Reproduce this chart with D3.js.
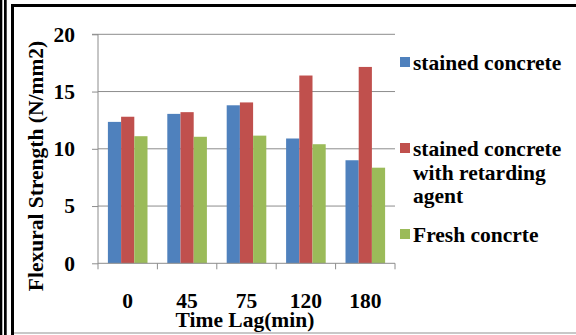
<!DOCTYPE html>
<html>
<head>
<meta charset="utf-8">
<script src="https://cdn.jsdelivr.net/npm/d3@7"></script>
<style>
  html, body { margin: 0; padding: 0; background: #fff; }
  svg { display: block; }
</style>
</head>
<body>
<svg id="chart" width="576" height="335"></svg>
<script>
// Flexural strength by time lag for three concrete mixes
const categories = ["0", "45", "75", "120", "180"];
const seriesNames = ["stained concrete", "stained concrete with retarding agent", "Fresh concrte"];
const stained = [12.35, 13.05, 13.8, 10.9, 9.0];
const stainedRetarding = [12.8, 13.2, 14.05, 16.4, 17.15];
const fresh = [11.1, 11.05, 11.15, 10.4, 8.35];
const yTicks = [0, 5, 10, 15, 20];
const legendLines = [["stained concrete"], ["stained concrete", "with retarding", "agent"], ["Fresh concrte"]];
const colors = ["#4F81BD", "#C0504D", "#9BBB59"];

const seriesValues = [stained, stainedRetarding, fresh];
const svg = d3.select("#chart");
const FONT = "'Liberation Serif', 'Times New Roman', serif";
const styleText = sel => sel.style("font-family", FONT).style("font-weight", "bold")
  .style("font-size", "21.5px").style("fill", "#000");

// frame around the figure
const frame = svg.append("g");
frame.append("rect").attr("x", 0).attr("y", 0).attr("width", 2.3).attr("height", 335).attr("fill", "#000");
frame.append("rect").attr("x", 4).attr("y", 0).attr("width", 2.7).attr("height", 335).attr("fill", "#000");
frame.append("rect").attr("x", 11).attr("y", 4).attr("width", 3).attr("height", 331).attr("fill", "#000");
frame.append("rect").attr("x", 11).attr("y", 4).attr("width", 565).attr("height", 3).attr("fill", "#000");
frame.append("rect").attr("x", 14).attr("y", 332).attr("width", 562).attr("height", 2).attr("fill", "#c8c8c8");

const plot = { left: 98, right: 395, top: 34.3, bottom: 263.3 };

const x = d3.scaleBand().domain(categories).range([plot.left, plot.right]).paddingInner(0).paddingOuter(0);
const groupW = x.bandwidth() * 3 / 4.5;
const xs = d3.scaleBand().domain(d3.range(3)).range([(x.bandwidth() - groupW) / 2, (x.bandwidth() + groupW) / 2]);
const y = d3.scaleLinear().domain([0, 20]).range([plot.bottom, plot.top]);

// gridlines
svg.append("g").selectAll("line").data(yTicks.filter(d => d > 0)).join("line")
  .attr("x1", plot.left).attr("x2", plot.right)
  .attr("y1", d => y(d)).attr("y2", d => y(d))
  .attr("stroke", "#8c8c8c").attr("stroke-width", 1);

// bars
const groups = svg.append("g").selectAll("g").data(categories).join("g")
  .attr("transform", d => `translate(${x(d)},0)`);
groups.selectAll("rect").data((c, i) => seriesValues.map((s, k) => ({ k, v: s[i] }))).join("rect")
  .attr("x", d => xs(d.k))
  .attr("width", xs.bandwidth())
  .attr("y", d => y(d.v))
  .attr("height", d => y(0) - y(d.v))
  .attr("fill", d => colors[d.k]);

// y axis
const yAxis = svg.append("g").attr("transform", `translate(${plot.left},0)`)
  .call(d3.axisLeft(y).tickValues(yTicks).tickSize(6).tickPadding(17).tickFormat(d3.format("d")));
yAxis.select(".domain").attr("stroke", "#8c8c8c").attr("d", `M-6,${plot.top}H0V${plot.bottom}`);
yAxis.selectAll(".tick line").attr("stroke", "#8c8c8c");
yAxis.selectAll(".tick text").call(styleText);

// x axis
const xAxis = svg.append("g").attr("transform", `translate(0,${plot.bottom})`)
  .call(d3.axisBottom(x).tickSize(0).tickPadding(29));
xAxis.select(".domain").attr("stroke", "#8c8c8c").attr("d", `M${plot.left},0H${plot.right}`);
xAxis.selectAll(".tick text").call(styleText);
xAxis.selectAll(".sep").data(d3.range(categories.length + 1)).join("line")
  .attr("x1", i => plot.left + i * x.step()).attr("x2", i => plot.left + i * x.step())
  .attr("y1", 0).attr("y2", 6).attr("stroke", "#8c8c8c");

// axis titles
svg.append("text").attr("x", 245).attr("y", 327).attr("text-anchor", "middle")
  .call(styleText).text("Time Lag(min)");
svg.append("text").attr("transform", "translate(43,166) rotate(-90)").attr("text-anchor", "middle")
  .call(styleText).text("Flexural Strength (N/mm2)");

// legend
const legendY = [57, 143, 229];
const legend = svg.append("g");
legendLines.forEach((lines, i) => {
  legend.append("rect").attr("x", 400).attr("y", legendY[i]).attr("width", 10).attr("height", 10).attr("fill", colors[i]);
  const t = legend.append("text").attr("x", 413).attr("y", legendY[i] + 13).call(styleText);
  lines.forEach((ln, j) => t.append("tspan").attr("x", 413).attr("dy", j === 0 ? 0 : 23.5).text(ln));
});
</script>
</body>
</html>
